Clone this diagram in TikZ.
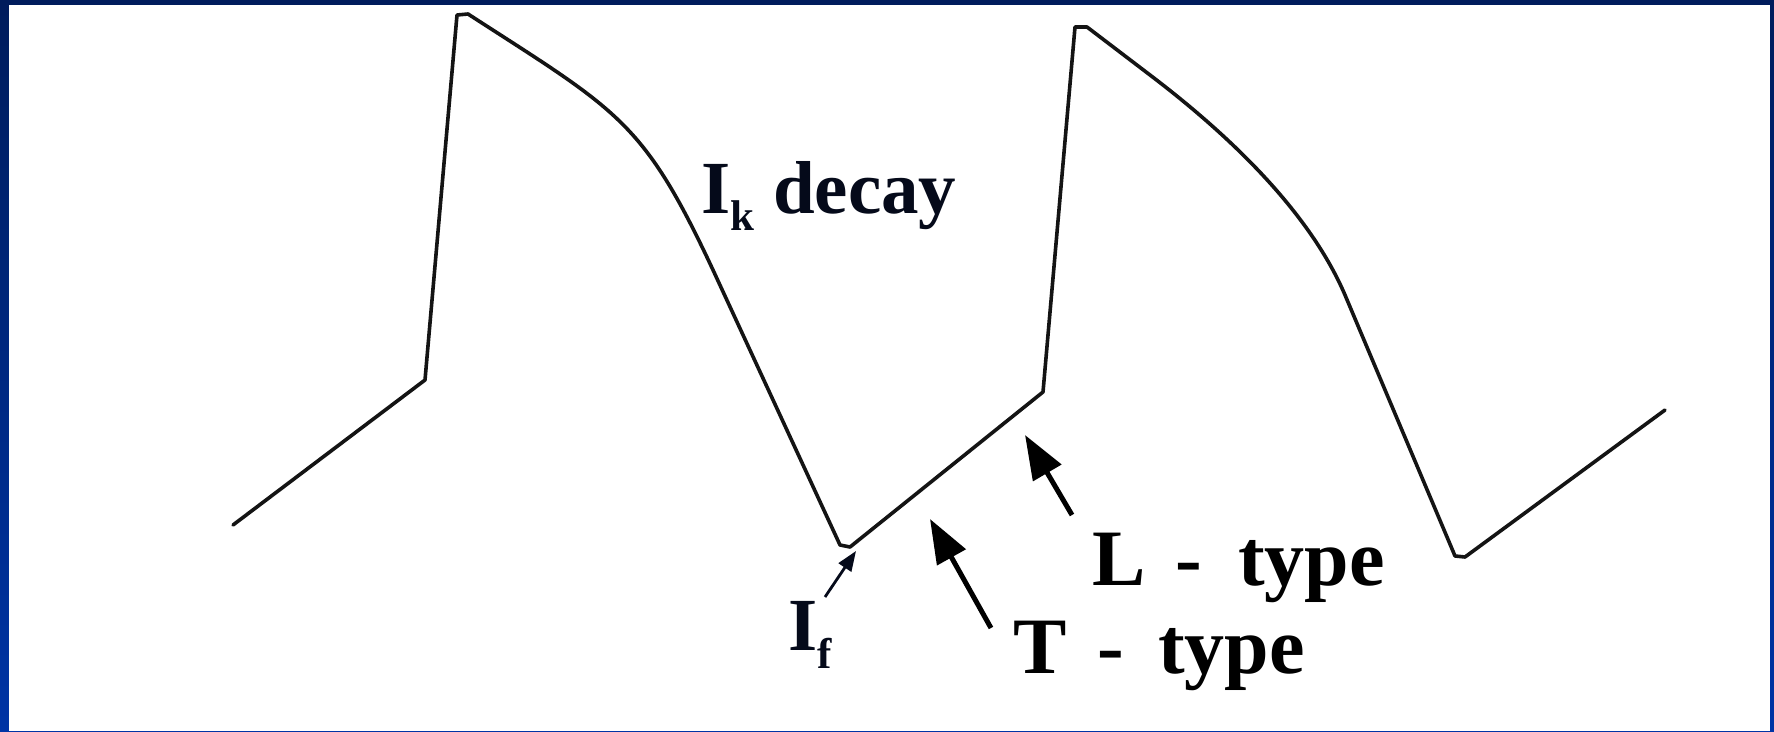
\documentclass[tikz,border=0pt]{standalone}
\usepackage{fontspec}
\setmainfont{Liberation Serif}
\usetikzlibrary{arrows.meta}
\definecolor{navytop}{RGB}{0,28,92}
\definecolor{navymid}{RGB}{0,46,148}
\definecolor{navybot}{RGB}{0,52,165}
\definecolor{inkcol}{RGB}{5,10,26}
\begin{document}
\begin{tikzpicture}[x=1pt,y=-1pt,
  wave/.style={line width=3.6pt, line join=round, line cap=round, black!92},
  bigarrow/.style={line width=5pt, black, -{Triangle[length=44pt,width=32pt]}},
  smallarrow/.style={line width=2.8pt, inkcol, -{Triangle[length=20pt,width=15pt]}},
  lbl/.style={inner sep=0pt, anchor=base west, font=\bfseries\fontsize{75}{90}\selectfont, text=inkcol},
  typelbl/.style={inner sep=0pt, anchor=base west, font=\bfseries\fontsize{80}{96}\selectfont, text=black}]
\useasboundingbox (0,0) rectangle (1774,731);
% slide background and white picture area
\shade[top color=navytop, middle color=navymid, bottom color=navybot] (0,0) rectangle (1774,731);
\fill[white] (9,5) rectangle (1770,731);

% waveform
\draw[wave] (233,525) -- (425,380) -- (457,15) -- (468,14)
  .. controls (618,111) and (643,120) .. (713,270)
  -- (840,545) -- (850,547) -- (1043,392) -- (1075,27) -- (1087,27)
  -- (1150,75) .. controls (1250,151) and (1315,225) .. (1345,295)
  -- (1455,556) -- (1465,557) -- (1665,410);

% labels
\node[lbl] (ik) at (701,213) {I\raisebox{-17pt}{\fontsize{43}{43}\selectfont k} decay};
\node[lbl] (if) at (788,650) {I\raisebox{-18pt}{\fontsize{43}{43}\selectfont f}};
\node[typelbl] (ltype) at (1092,585) {L\hspace{30pt}-\hspace{36pt}type};
\node[typelbl] (ttype) at (1013,673) {T\hspace{31pt}-\hspace{34pt}type};

% arrows
\coordinate (ifTail) at (825,597);
\coordinate (ifTip) at (856,551);
\coordinate (tTail) at (991,628);
\coordinate (tTip) at (930,519);
\coordinate (lTail) at (1072,515);
\coordinate (lTip) at (1025,435);
\draw[smallarrow] (ifTail) -- (ifTip);
\draw[bigarrow] (tTail) -- (tTip);
\draw[bigarrow] (lTail) -- (lTip);
\end{tikzpicture}
\end{document}
